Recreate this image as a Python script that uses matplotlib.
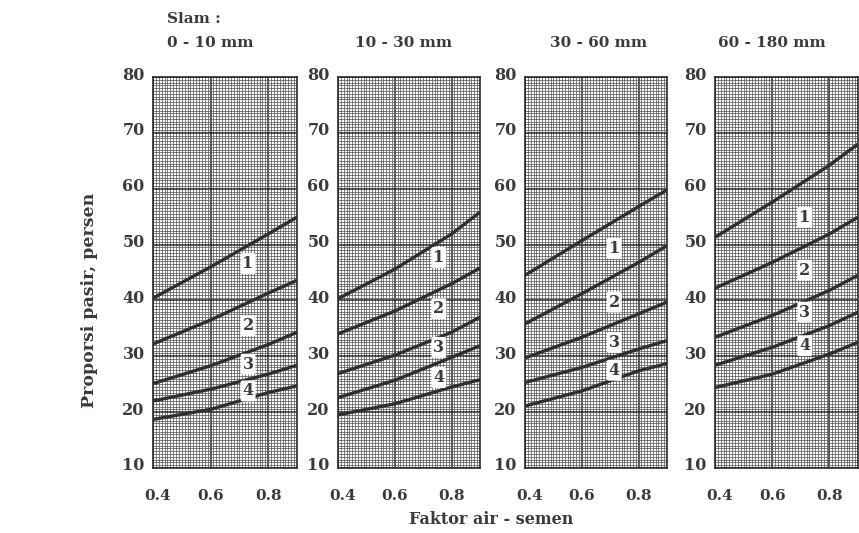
import matplotlib
matplotlib.use("Agg")
import matplotlib.pyplot as plt
from matplotlib.ticker import MultipleLocator, FixedLocator
import matplotlib.transforms as mtrans

# ---------------- data ----------------
water_cement = [0.4, 0.6, 0.8, 0.9]          # Faktor air - semen
x_ticks = [0.4, 0.6, 0.8]
slump_titles = ["0 - 10 mm", "10 - 30 mm", "30 - 60 mm", "60 - 180 mm"]
zone_names = ["1", "2", "3", "4"]

# five boundary lines per slump panel (top -> bottom), values in % sand
slump_0_10 = [
    [40.4, 46.0, 51.9, 54.9],
    [32.2, 36.5, 41.3, 43.6],
    [25.1, 28.3, 32.1, 34.3],
    [22.0, 24.1, 26.8, 28.4],
    [18.7, 20.5, 23.5, 24.7],
]
slump_10_30 = [
    [40.3, 45.6, 51.9, 55.8],
    [34.0, 38.1, 43.0, 45.8],
    [26.9, 30.2, 34.3, 37.0],
    [22.6, 25.7, 29.8, 31.9],
    [19.5, 21.5, 24.5, 25.8],
]
slump_30_60 = [
    [44.5, 50.7, 56.8, 59.8],
    [35.8, 41.2, 46.8, 49.8],
    [29.7, 33.4, 37.6, 39.7],
    [25.3, 28.0, 31.3, 32.8],
    [21.1, 23.8, 27.4, 28.7],
]
slump_60_180 = [
    [51.3, 57.6, 64.2, 68.0],
    [42.2, 46.8, 51.9, 54.9],
    [33.4, 37.3, 41.8, 44.5],
    [28.4, 31.6, 35.5, 37.9],
    [24.4, 26.8, 30.4, 32.5],
]
panels_data = [slump_0_10, slump_10_30, slump_30_60, slump_60_180]

# zone-number label anchors (data coords) per panel
zone_label_x = [0.73, 0.755, 0.714, 0.714]
zone_label_y = [
    [46.6, 35.5, 28.6, 23.8],
    [47.7, 38.5, 31.6, 26.2],
    [49.3, 39.7, 32.5, 27.5],
    [54.9, 45.4, 37.9, 31.9],
]

# ---------------- style / layout ----------------
W, H = 859, 533
TXT = "#3a3a3a"
plt.rcParams["font.family"] = ["DejaVu Serif"]
plt.rcParams["font.weight"] = "bold"

fig = plt.figure(figsize=(W / 100, H / 100), dpi=100)
fig.patch.set_facecolor("white")

panel_px = [(153, 297), (338, 480), (525, 667), (715, 858)]
top_px, bot_px = 77, 468
up_shift = mtrans.ScaledTranslation(0, 4 / 100, fig.dpi_scale_trans)
right_shift = mtrans.ScaledTranslation(5 / 100, 0, fig.dpi_scale_trans)

for i, (l, r) in enumerate(panel_px):
    ax = fig.add_axes([l / W, (H - bot_px) / H, (r - l) / W, (bot_px - top_px) / H])
    ax.set_xlim(0.4, 0.9)
    ax.set_ylim(10, 80)
    ax.xaxis.set_major_locator(FixedLocator(x_ticks))
    ax.xaxis.set_minor_locator(MultipleLocator(0.01))
    ax.yaxis.set_major_locator(MultipleLocator(10))
    ax.yaxis.set_minor_locator(MultipleLocator(0.5))
    ax.grid(which="minor", color="#5c5c5c", lw=0.55)
    ax.grid(which="major", color="#2a2a2a", lw=1.1)
    ax.set_axisbelow(True)
    ax.tick_params(which="both", length=0)
    ax.tick_params(axis="x", pad=15, labelsize=11, labelcolor=TXT)
    ax.tick_params(axis="y", pad=6, labelsize=11.5, labelcolor=TXT)
    for tk in ax.yaxis.get_major_ticks():
        tk.label1.set_transform(tk.label1.get_transform() + up_shift)
    xt = ax.xaxis.get_major_ticks()
    xt[0].label1.set_transform(xt[0].label1.get_transform() + right_shift)
    for sp in ax.spines.values():
        sp.set_color("#2a2a2a")
        sp.set_linewidth(1.2)

    for curve in panels_data[i]:
        ax.plot(water_cement, curve, color="#2f2f2f", lw=2.4,
                solid_capstyle="butt", solid_joinstyle="round", zorder=3)

    for name, yy in zip(zone_names, zone_label_y[i]):
        ax.text(zone_label_x[i], yy, name, ha="center", va="center",
                fontsize=11.5, color=TXT, zorder=4,
                bbox=dict(boxstyle="round,pad=0.12", fc="white", ec="none"))

# panel titles
fig.text(167 / W, 1 - 19 / H, "Slam :", ha="left", va="center", fontsize=11, color=TXT)
fig.text(167 / W, 1 - 43 / H, slump_titles[0], ha="left", va="center", fontsize=11, color=TXT)
title_cx = [None, 404, 599, 772]
for i in range(1, 4):
    fig.text(title_cx[i] / W, 1 - 43 / H, slump_titles[i], ha="center", va="center",
             fontsize=11, color=TXT)

fig.text(90 / W, 1 - 300 / H, "Proporsi pasir, persen", rotation=90,
         ha="center", va="center", fontsize=12.5, color=TXT)
fig.text(491 / W, 1 - 519 / H, "Faktor air - semen", ha="center", va="center",
         fontsize=11.5, color=TXT)

fig.savefig("out.png", dpi=100, facecolor="white")
